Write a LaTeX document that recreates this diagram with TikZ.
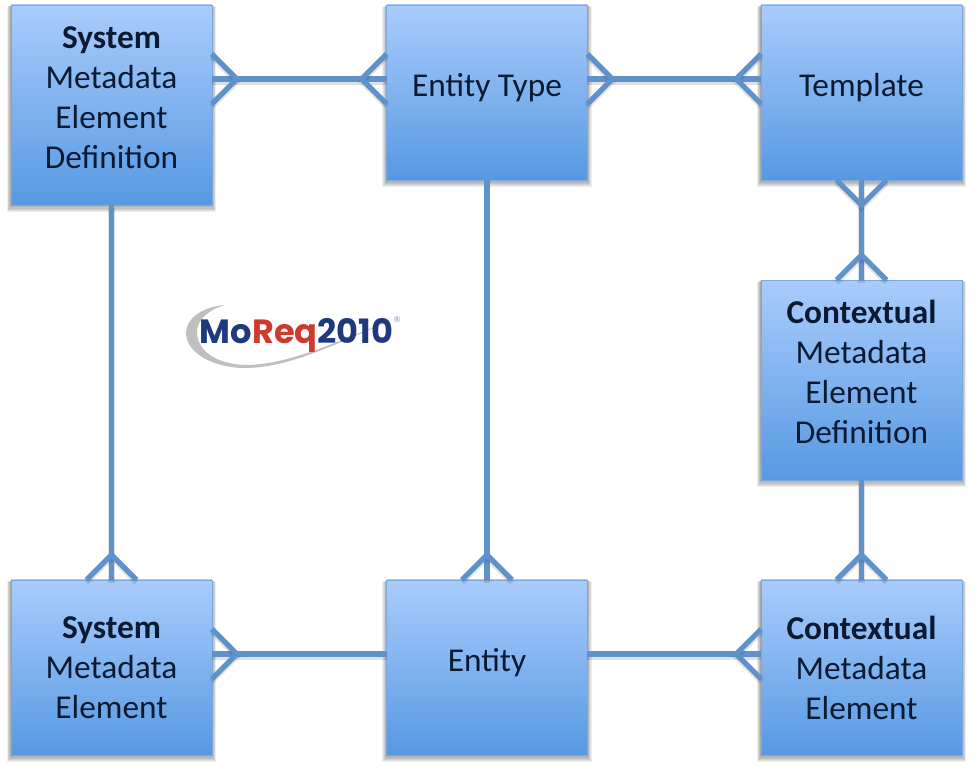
\documentclass[tikz,border=0pt]{standalone}
\usepackage{fontspec}
\setmainfont{Carlito}
\newfontfamily\logofont{Poppins}
\newfontfamily\regfont{DejaVu Sans}
\usetikzlibrary{calc,backgrounds}
\definecolor{boxtop}{HTML}{A9CCFC}
\definecolor{boxbot}{HTML}{5799E2}
\definecolor{boxline}{HTML}{7AA8DE}
\definecolor{connc}{HTML}{5F92CB}
\definecolor{navy}{HTML}{1F3A7C}
\definecolor{logored}{HTML}{CF3A2E}
\definecolor{ink}{HTML}{0B1A33}
\tikzset{
  diagbox/.style={rectangle,draw=boxline,line width=.4pt,top color=boxtop,bottom color=boxbot,
    minimum width=150.5pt,outer sep=0pt,inner sep=0pt},
  tall/.style={diagbox,minimum height=150pt},
  short/.style={diagbox,minimum height=131.5pt},
  lbl/.style={align=center,text=ink,font=\fontsize{25}{30}\selectfont,inner sep=0pt},
  shadelayer/.style={fill=black,opacity=.065},
  conn/.style={draw=connc,line width=4.4pt,
    preaction={draw=black,opacity=.12,line width=4.8pt,transform canvas={yshift=-2.4pt}}},
  foot/.style={draw=connc,line width=3.9pt,line join=miter,
    preaction={draw=black,opacity=.10,line width=4.2pt,transform canvas={yshift=-2pt}}}
}
\newcommand{\crowh}[2]{% #1 point, #2 sign (+1 right, -1 left)
  \draw[foot] ($(#1)+(0,-25)$) -- ($(#1)+(#2*25,0)$) -- ($(#1)+(0,25)$);
}
\newcommand{\crowv}[2]{% #1 point, #2 sign (+1 down, -1 up)
  \draw[foot] ($(#1)+(-25,0)$) -- ($(#1)+(0,#2*25)$) -- ($(#1)+(25,0)$);
}
\newcommand{\boxshade}[1]{%
  \foreach \k in {1,...,6}{%
    \fill[shadelayer] ($(#1.north west)+({-.7*\k},{.3*\k})$) rectangle ($(#1.south east)+({.7*\k},{1.2*\k})$);
  }%
}
\begin{document}
\begin{tikzpicture}[x=.75pt,y=-.75pt]
\useasboundingbox (0,0) rectangle (978,770);

% boxes
\node[tall]  (sd) at (111.5,105) {};
\node[short] (et) at (487,92.5) {};
\node[short] (tp) at (861.5,92.5) {};
\node[tall]  (cd) at (861.5,380) {};
\node[short] (se) at (111.5,667.5) {};
\node[short] (en) at (487,667.5) {};
\node[short] (ce) at (861.5,667.5) {};

\begin{scope}[on background layer]
  \fill[white] (0,0) rectangle (978,770);
  \boxshade{sd}\boxshade{et}\boxshade{tp}\boxshade{cd}\boxshade{se}\boxshade{en}\boxshade{ce}
\end{scope}

% labels
\node[lbl] (tsd) at ($(sd.center)+(0,-7.5)$) {\textbf{System}\\Metadata\\Element\\Definition};
\node[lbl] (tet) at ($(et.center)+(0,-5)$) {Entity Type};
\node[lbl] (ttp) at ($(tp.center)+(0,-5)$) {Template};
\node[lbl] (tcd) at ($(cd.center)+(0,-8)$) {\textbf{Contextual}\\Metadata\\Element\\Definition};
\node[lbl] (tse) at ($(se.center)+(0,.5)$) {\textbf{System}\\Metadata\\Element};
\node[lbl] (ten) at ($(en.center)+(0,-5)$) {Entity};
\node[lbl] (tce) at ($(ce.center)+(0,0.5)$) {\textbf{Contextual}\\Metadata\\Element};

% guide coordinates
\coordinate (top) at (0,79);
\coordinate (low) at (0,654);
\coordinate (p1) at (sd.east |- top);
\coordinate (p2) at (et.west |- top);
\coordinate (p3) at (et.east |- top);
\coordinate (p4) at (tp.west |- top);
\coordinate (p5) at (se.east |- low);
\coordinate (p6) at (en.west |- low);
\coordinate (p7) at (en.east |- low);
\coordinate (p8) at (ce.west |- low);

% connectors
\draw[conn] (p1) -- (p2);
\draw[conn] (p3) -- (p4);
\draw[conn] (sd.south) -- (se.north);
\draw[conn] (et.south) -- (en.north);
\draw[conn] (tp.south) -- (cd.north);
\draw[conn] (cd.south) -- (ce.north);
\draw[conn] (p5) -- (p6);
\draw[conn] (p7) -- (p8);

% crow's feet
\crowh{p1}{1}
\crowh{p2}{-1}
\crowh{p3}{1}
\crowh{p4}{-1}
\crowh{p5}{1}
\crowh{p8}{-1}
\crowv{tp.south}{1}
\crowv{cd.north}{-1}
\crowv{se.north}{-1}
\crowv{en.north}{-1}
\crowv{ce.north}{-1}

% logo
\fill[black!25] (225,305) .. controls (200,307) and (186,320) .. (186,333)
  .. controls (186,352) and (212,368) .. (245,368)
  .. controls (290,368) and (340,342) .. (392,320)
  .. controls (340,340) and (290,365) .. (245,365)
  .. controls (215,364) and (197,350) .. (197,332)
  .. controls (197,320) and (208,310) .. (225,305) -- cycle;
\node[inner sep=0pt,anchor=center,font=\logofont\bfseries\fontsize{25.2}{26}\selectfont] (logo) at (296.5,335)
  {\textcolor{navy}{Mo}\textcolor{logored}{Req}\textcolor{navy}{2010}};
\node[inner sep=0pt,font=\regfont\fontsize{6}{6}\selectfont,text=navy!60] (reg) at (397,320) {®};
\end{tikzpicture}
\end{document}
